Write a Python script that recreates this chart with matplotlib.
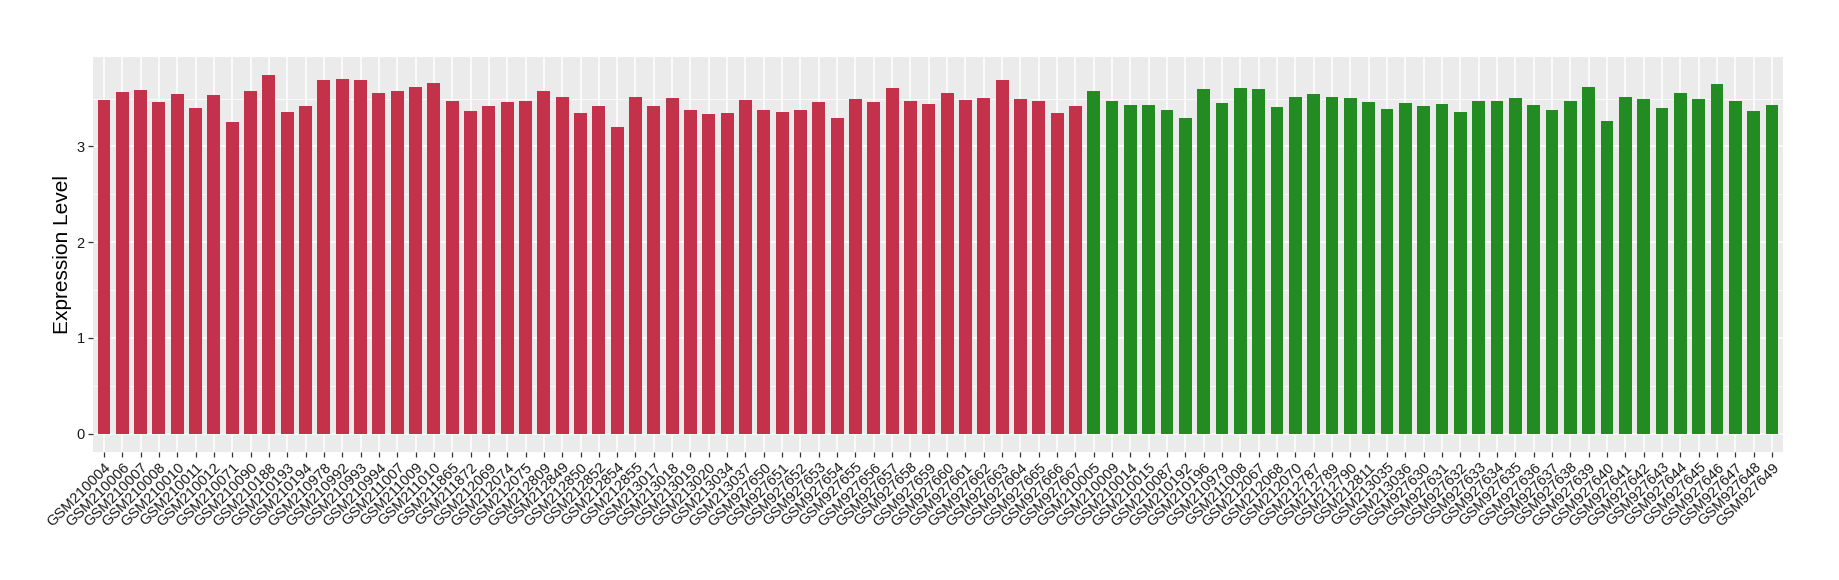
import matplotlib
matplotlib.use("Agg")
import matplotlib.pyplot as plt
import numpy as np
from matplotlib.ticker import MultipleLocator

plt.rcParams["font.family"] = ["Liberation Sans", "DejaVu Sans"]

group1_samples = [
    "GSM210004", "GSM210006", "GSM210007", "GSM210008", "GSM210010", "GSM210011",
    "GSM210012", "GSM210071", "GSM210090", "GSM210188", "GSM210193", "GSM210194",
    "GSM210978", "GSM210992", "GSM210993", "GSM210994", "GSM211007", "GSM211009",
    "GSM211010", "GSM211865", "GSM211872", "GSM212069", "GSM212074", "GSM212075",
    "GSM212809", "GSM212849", "GSM212850", "GSM212852", "GSM212854", "GSM212855",
    "GSM213017", "GSM213018", "GSM213019", "GSM213020", "GSM213034", "GSM213037",
    "GSM927650", "GSM927651", "GSM927652", "GSM927653", "GSM927654", "GSM927655",
    "GSM927656", "GSM927657", "GSM927658", "GSM927659", "GSM927660", "GSM927661",
    "GSM927662", "GSM927663", "GSM927664", "GSM927665", "GSM927666", "GSM927667",
]
group1_values = [
    3.49, 3.57, 3.59, 3.46, 3.55, 3.40, 3.54, 3.26, 3.58, 3.75, 3.36, 3.42,
    3.69, 3.70, 3.69, 3.56, 3.58, 3.62, 3.66, 3.47, 3.37, 3.42, 3.46, 3.48,
    3.58, 3.52, 3.35, 3.42, 3.20, 3.52, 3.42, 3.51, 3.38, 3.34, 3.35, 3.49,
    3.38, 3.36, 3.38, 3.46, 3.30, 3.50, 3.46, 3.61, 3.48, 3.44, 3.56, 3.49,
    3.51, 3.69, 3.50, 3.47, 3.35, 3.42,
]

group2_samples = [
    "GSM210005", "GSM210009", "GSM210014", "GSM210015", "GSM210087", "GSM210192",
    "GSM210196", "GSM210979", "GSM211008", "GSM212067", "GSM212068", "GSM212070",
    "GSM212787", "GSM212789", "GSM212790", "GSM212811", "GSM213035", "GSM213036",
    "GSM927630", "GSM927631", "GSM927632", "GSM927633", "GSM927634", "GSM927635",
    "GSM927636", "GSM927637", "GSM927638", "GSM927639", "GSM927640", "GSM927641",
    "GSM927642", "GSM927643", "GSM927644", "GSM927645", "GSM927646", "GSM927647",
    "GSM927648", "GSM927649",
]
group2_values = [
    3.58, 3.47, 3.43, 3.43, 3.38, 3.30, 3.60, 3.45, 3.61, 3.60, 3.41, 3.52,
    3.55, 3.52, 3.51, 3.46, 3.39, 3.45, 3.42, 3.44, 3.36, 3.48, 3.48, 3.51,
    3.43, 3.38, 3.48, 3.62, 3.27, 3.52, 3.50, 3.40, 3.56, 3.50, 3.65, 3.48,
    3.37, 3.43,
]

color1 = "#C3314A"
color2 = "#228B22"

labels = group1_samples + group2_samples
values = group1_values + group2_values
colors = [color1] * len(group1_values) + [color2] * len(group2_values)
x = np.arange(len(labels))

fig = plt.figure(figsize=(18.4, 5.8), dpi=100)
ax = fig.add_axes([0.0505, 0.2212, 0.9185, 0.681])
ax.set_facecolor("#EBEBEB")

ax.bar(x, values, width=0.7, color=colors, zorder=2)

ax.set_xlim(-0.6, len(labels) - 1 + 0.6)
ymax = max(values)
ax.set_ylim(-0.05 * ymax, 1.05 * ymax)

ax.yaxis.set_major_locator(MultipleLocator(1))
ax.yaxis.set_minor_locator(MultipleLocator(0.5))
ax.set_xticks(x)
ax.set_xticklabels(labels, rotation=45, ha="right", rotation_mode="anchor",
                   fontsize=10.6, color="#1a1a1a")
ax.tick_params(axis="y", labelsize=10.5, labelcolor="#1a1a1a")
ax.tick_params(axis="both", which="major", length=3.5, width=0.9, color="#333333", pad=2.5)
ax.tick_params(axis="y", which="minor", length=0)

ax.grid(True, which="major", color="white", linewidth=1.1, zorder=0)
ax.grid(True, which="minor", axis="y", color="white", linewidth=0.55, zorder=0)
ax.set_axisbelow(True)
for s in ax.spines.values():
    s.set_visible(False)

ax.set_ylabel("Expression Level", fontsize=15, labelpad=3)

fig.savefig("out.png", dpi=100)
